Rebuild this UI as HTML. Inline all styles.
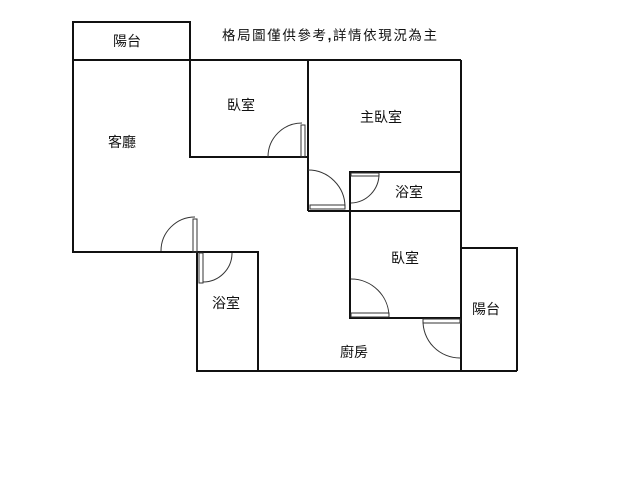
<!DOCTYPE html>
<html><head><meta charset="utf-8"><style>
html,body{margin:0;padding:0;background:#fff;width:640px;height:480px;overflow:hidden}
svg text{font-family:"Liberation Sans","Noto Sans CJK TC",sans-serif;font-size:14px;fill:#111}
</style></head><body>
<svg width="640" height="480" viewBox="0 0 640 480" xmlns="http://www.w3.org/2000/svg">
<g stroke="#111" stroke-width="2" fill="none">
<polyline points="73,60 73,22 190,22 190,60"/>
<line x1="73" y1="60" x2="461" y2="60"/>
<polyline points="73,60 73,252 197,252"/>
<polyline points="190,60 190,157 308,157"/>
<line x1="308" y1="60" x2="308" y2="211"/>
<line x1="461" y1="60" x2="461" y2="371"/>
<line x1="308" y1="211" x2="461" y2="211"/>
<polyline points="350,211 350,172 461,172"/>
<polyline points="350,211 350,318 461,318"/>
<polyline points="461,248 517,248 517,371"/>
<polyline points="197,252 197,371 517,371"/>
<polyline points="197,252 258,252 258,371"/>
</g>
<g stroke="#333" stroke-width="1" fill="none">
<path d="M268,157 A34,34 0 0 1 302,123"/>
<rect x="301" y="125" width="4" height="32"/>
<path d="M308,170 A37,37 0 0 1 345,207"/>
<rect x="310" y="205" width="35" height="4"/>
<path d="M379,174 A29,29 0 0 1 351,203"/>
<rect x="351" y="173" width="28" height="3"/>
<path d="M351,279 A38,38 0 0 1 389,317"/>
<rect x="351" y="313" width="38" height="4"/>
<path d="M423,320 A37,37 0 0 0 460,358"/>
<rect x="423" y="319" width="37" height="4"/>
<path d="M161,251 A34,34 0 0 1 195,217"/>
<rect x="193" y="219" width="4" height="33"/>
<path d="M232,253 A29,29 0 0 1 203,282"/>
<rect x="199" y="253" width="4" height="30"/>
</g>
<text x="113" y="46">陽台</text>
<text x="222" y="40" style="font-size:13.5px" textLength="215" lengthAdjust="spacing">格局圖僅供參考<tspan font-weight="bold">,</tspan>詳情依現況為主</text>
<text x="227" y="110">臥室</text>
<text x="108" y="147">客廳</text>
<text x="360" y="122">主臥室</text>
<text x="395" y="197">浴室</text>
<text x="391" y="263">臥室</text>
<text x="212" y="308">浴室</text>
<text x="472" y="314">陽台</text>
<text x="340" y="357">廚房</text>
</svg>
</body></html>
